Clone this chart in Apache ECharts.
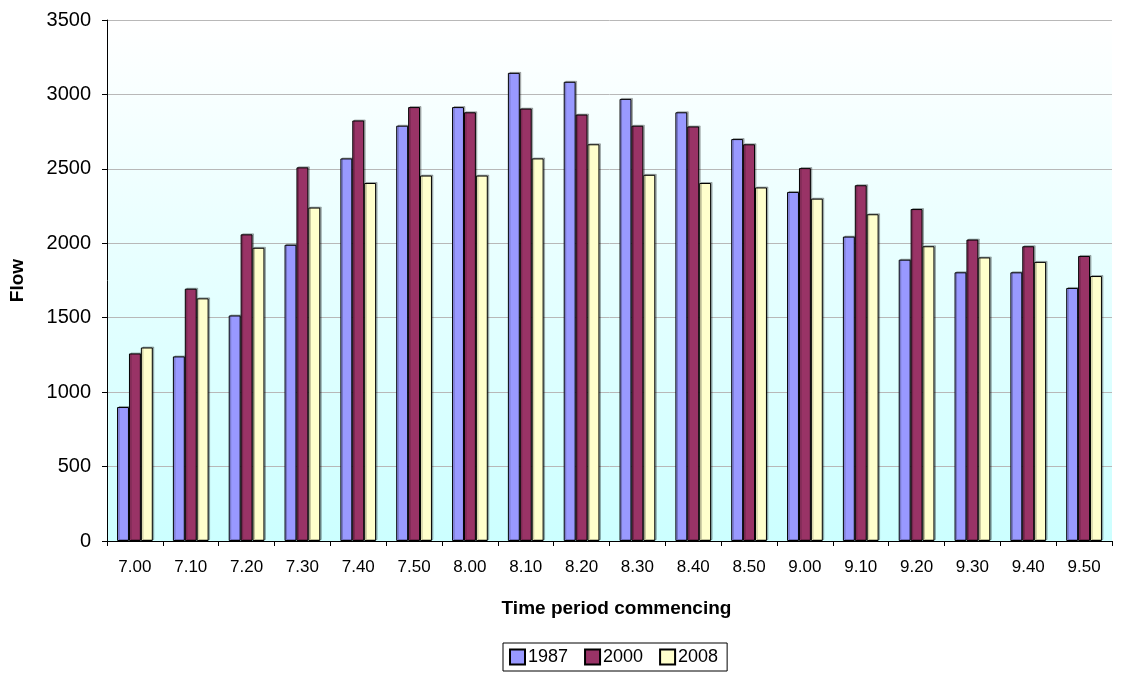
<!DOCTYPE html>
<html>
<head>
<meta charset="utf-8">
<script src="https://cdn.jsdelivr.net/npm/echarts@6/dist/echarts.min.js"></script>
<style>
  html, body { margin: 0; padding: 0; background: #ffffff; }
  #chart { width: 1121px; height: 673px; }
</style>
</head>
<body>
<div id="chart"></div>
<script>
// Traffic flow per 10-minute period, morning peak
const periods = ['7.00','7.10','7.20','7.30','7.40','7.50','8.00','8.10','8.20','8.30','8.40','8.50','9.00','9.10','9.20','9.30','9.40','9.50'];
const flow1987 = [900, 1240, 1515, 1990, 2570, 2790, 2915, 3145, 3085, 2970, 2880, 2700, 2345, 2045, 1890, 1805, 1805, 1700];
const flow2000 = [1260, 1695, 2060, 2510, 2825, 2915, 2880, 2905, 2865, 2790, 2785, 2665, 2505, 2390, 2230, 2025, 1980, 1915];
const flow2008 = [1300, 1630, 1970, 2240, 2405, 2455, 2455, 2570, 2665, 2460, 2405, 2375, 2300, 2195, 1980, 1905, 1875, 1780];
const yTicks = { min: 0, max: 3500, interval: 500 };

const FONT = '"Liberation Sans", Arial, sans-serif';
const chart = echarts.init(document.getElementById('chart'), null, { renderer: 'canvas' });

function barSeries(name, data, color) {
  return {
    name: name,
    type: 'bar',
    data: data,
    barGap: '0%',
    barCategoryGap: '36%',
    itemStyle: {
      color: color,
      borderColor: '#000000',
      borderWidth: 1,
      shadowColor: 'rgba(0,0,0,0.25)',
      shadowOffsetX: 1.5,
      shadowOffsetY: -1,
      shadowBlur: 0
    }
  };
}

chart.setOption({
  animation: false,
  backgroundColor: '#ffffff',
  textStyle: { fontFamily: FONT },
  grid: {
    left: 107, right: 9, top: 20, bottom: 132,
    show: true,
    borderWidth: 0,
    backgroundColor: new echarts.graphic.LinearGradient(0, 0, 0, 1, [
      { offset: 0, color: '#ffffff' },
      { offset: 1, color: '#ccffff' }
    ])
  },
  legend: {
    bottom: 2,
    left: 503,
    itemWidth: 15,
    itemHeight: 15,
    itemGap: 16,
    padding: [5, 9, 5, 6],
    borderColor: '#000000',
    borderWidth: 1,
    icon: 'rect',
    textStyle: { fontFamily: FONT, fontSize: 18, color: '#000000', padding: [0, 0, 0, -2] },
    data: ['1987', '2000', '2008']
  },
  xAxis: {
    type: 'category',
    data: periods,
    name: 'Time period commencing',
    nameLocation: 'middle',
    nameGap: 58,
    nameTextStyle: { fontFamily: FONT, fontSize: 19, fontWeight: 'bold', color: '#000000', padding: [0, 0, 0, 14] },
    axisLine: { lineStyle: { color: '#000000', width: 1 } },
    axisTick: { show: true, alignWithLabel: false, length: 5, lineStyle: { color: '#000000' } },
    axisLabel: { fontFamily: FONT, fontSize: 17, color: '#000000', margin: 18 },
    splitLine: { show: false }
  },
  yAxis: {
    type: 'value',
    min: yTicks.min,
    max: yTicks.max,
    interval: yTicks.interval,
    name: 'Flow',
    nameLocation: 'middle',
    nameGap: 80,
    nameRotate: 90,
    nameTextStyle: { fontFamily: FONT, fontSize: 19, fontWeight: 'bold', color: '#000000' },
    axisLine: { show: true, lineStyle: { color: '#000000', width: 1 } },
    axisTick: { show: true, length: 5, lineStyle: { color: '#000000' } },
    axisLabel: { fontFamily: FONT, fontSize: 20, color: '#000000', margin: 16, formatter: v => String(v) },
    splitLine: { show: true, lineStyle: { color: '#b8b8b8', width: 1 } }
  },
  series: [
    barSeries('1987', flow1987, '#9999ff'),
    barSeries('2000', flow2000, '#993366'),
    barSeries('2008', flow2008, '#ffffcc')
  ]
});
</script>
</body>
</html>
